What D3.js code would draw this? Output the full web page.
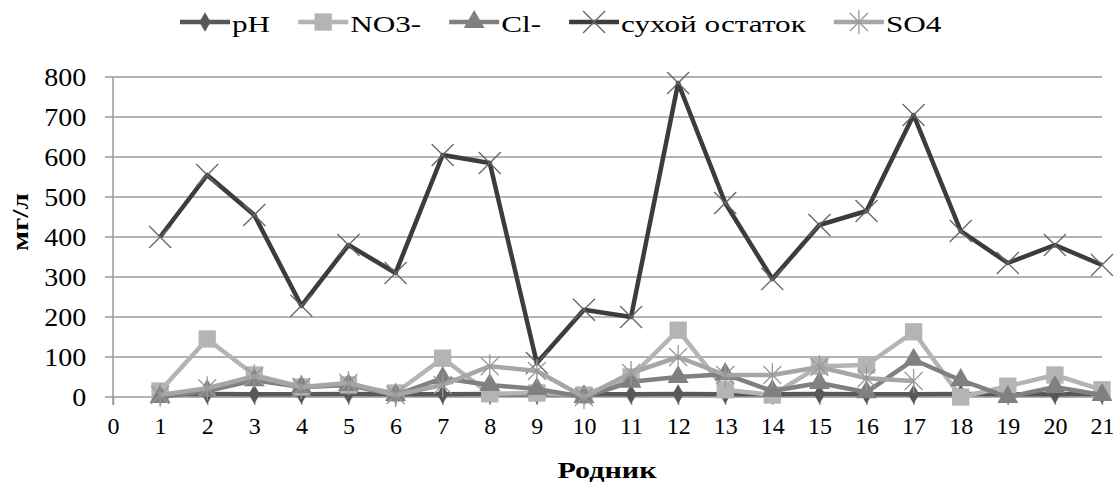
<!DOCTYPE html>
<html>
<head>
<meta charset="utf-8">
<script src="https://cdn.jsdelivr.net/npm/d3@7"></script>
<style>
  body { margin: 0; background: #fff; }
  svg text { font-family: "Liberation Serif", "Times New Roman", serif; fill: #000; }
</style>
</head>
<body>
<div class="container"></div>
<script>
// data
let springs = d3.range(1, 22)
let ph = [7, 7.2, 7.1, 7, 7.3, 7, 7.1, 7.2, 7, 7.1, 7, 7.2, 7.1, 7, 7.2, 7.1, 7, 7.2, 7.1, 7, 7.2]
let no3 = [15, 145, 55, 25, 30, 10, 97, 8, 10, 5, 50, 167, 18, 5, 77, 80, 163, 0, 27, 55, 18]
let cl = [0, 15, 42, 25, 30, 5, 47, 30, 20, 0, 38, 50, 57, 15, 35, 12, 93, 42, 0, 25, 5]
let dry = [400, 555, 455, 228, 380, 310, 605, 585, 85, 218, 200, 785, 485, 295, 430, 465, 705, 415, 335, 380, 330]
let so4 = [5, 22, 52, 25, 35, 5, 30, 77, 65, 0, 60, 100, 55, 55, 75, 47, 40, null, null, null, null]
let yTicks = [0, 100, 200, 300, 400, 500, 600, 700, 800]
let xTicks = d3.range(0, 22)

let series = [
    {name: 'pH', values: ph, color: '#585858', marker: 'diamond'},
    {name: 'NO3-', values: no3, color: '#b4b4b4', marker: 'square'},
    {name: 'Cl-', values: cl, color: '#808080', marker: 'triangle'},
    {name: 'сухой остаток', values: dry, color: '#3c3c3c', marker: 'x', mstroke: '#666'},
    {name: 'SO4', values: so4, color: '#a6a6a6', marker: 'asterisk', mstroke: '#999'}
]

let W = 1117, H = 486
let plotL = 113, plotR = 1102, plotT = 77, plotB = 397

let svg = d3.select('.container')
    .append('svg')
    .attr('width', W)
    .attr('height', H)

let x = d3.scaleLinear().domain([0, 21]).range([plotL, plotR])
let y = d3.scaleLinear().domain([0, 800]).range([plotB, plotT])

// gridlines
svg.append('g')
    .selectAll('line')
    .data(yTicks)
    .enter()
    .append('line')
    .attr('x1', plotL - 8)
    .attr('x2', plotR)
    .attr('y1', d => y(d))
    .attr('y2', d => y(d))
    .attr('stroke', '#9a9a9a')
    .attr('stroke-width', 1.5)

let yAxis = d3.axisLeft(y).tickValues(yTicks).tickSize(0).tickPadding(24)
svg.append('g')
    .attr('transform', 'translate(' + plotL + ',0)')
    .call(yAxis)
    .call(g => g.select('.domain').attr('stroke', '#9a9a9a').attr('stroke-width', 1.5)
        .attr('d', 'M0,' + plotT + 'V' + (plotB + 8)))
    .selectAll('text')
    .attr('font-size', 25)
    .attr('font-family', 'Liberation Serif')
    .attr('transform', 'scale(1.12,1)')

let xAxis = d3.axisBottom(x).tickValues(xTicks).tickSize(8).tickPadding(12)
svg.append('g')
    .attr('transform', 'translate(0,' + plotB + ')')
    .call(xAxis)
    .call(g => g.select('.domain').remove())
    .call(g => g.selectAll('line').attr('stroke', '#9a9a9a').attr('stroke-width', 1.5))
    .selectAll('text')
    .attr('font-size', 24)
    .attr('font-family', 'Liberation Serif')

// axis titles
svg.append('text')
    .attr('x', 607)
    .attr('y', 478)
    .attr('text-anchor', 'middle')
    .attr('font-size', 24)
    .attr('font-weight', 'bold')
    .attr('textLength', 99)
    .attr('lengthAdjust', 'spacingAndGlyphs')
    .text('Родник')

svg.append('text')
    .attr('transform', 'translate(28,222) rotate(-90)')
    .attr('text-anchor', 'middle')
    .attr('font-size', 24)
    .attr('font-weight', 'bold')
    .attr('textLength', 58)
    .attr('lengthAdjust', 'spacingAndGlyphs')
    .text('мг/л')

function drawMarker(g, s) {
    if (s.marker === 'diamond') {
        g.append('path').attr('d', d3.symbol(d3.symbolDiamond, 110)()).attr('fill', s.color)
    } else if (s.marker === 'square') {
        g.append('path').attr('d', d3.symbol(d3.symbolSquare, 300)()).attr('fill', s.color)
    } else if (s.marker === 'triangle') {
        g.append('path').attr('d', d3.symbol(d3.symbolTriangle, 190)()).attr('fill', s.color)
    } else if (s.marker === 'x') {
        g.append('path').attr('d', 'M-11,-11L11,11M-11,11L11,-11')
            .attr('stroke', s.mstroke).attr('stroke-width', 1.3).attr('fill', 'none')
    } else {
        g.append('path').attr('d', 'M-9,-9L9,9M-9,9L9,-9M0,-12V12')
            .attr('stroke', s.mstroke).attr('stroke-width', 1.3).attr('fill', 'none')
    }
}

let line = d3.line()
    .defined(d => d != null)
    .x((d, i) => x(springs[i]))
    .y(d => y(d))

series.forEach(function (s) {
    svg.append('path')
        .datum(s.values)
        .attr('d', line)
        .attr('fill', 'none')
        .attr('stroke', s.color)
        .attr('stroke-width', 4.5)
        .attr('stroke-linejoin', 'round')
    svg.append('g')
        .selectAll('g')
        .data(s.values.map((v, i) => [springs[i], v]).filter(d => d[1] != null))
        .enter()
        .append('g')
        .attr('transform', d => 'translate(' + x(d[0]) + ',' + y(d[1]) + ')')
        .each(function () { drawMarker(d3.select(this), s) })
})

// legend
let legend = svg.append('g')
let lx = 180
series.forEach(function (s) {
    let item = legend.append('g').attr('transform', 'translate(' + lx + ',22)')
    item.append('line')
        .attr('x1', 0).attr('x2', 50)
        .attr('stroke', s.color).attr('stroke-width', 4.5)
    let m = item.append('g').attr('transform', 'translate(25,0)')
    drawMarker(m, s)
    let t = item.append('text')
        .attr('x', 52)
        .attr('y', 10)
        .attr('font-size', 24)
        .text(s.name)
    let w = t.node().getComputedTextLength() * 1.3
    t.attr('textLength', w).attr('lengthAdjust', 'spacingAndGlyphs')
    lx += 52 + w + 28
})
</script>
</body>
</html>
